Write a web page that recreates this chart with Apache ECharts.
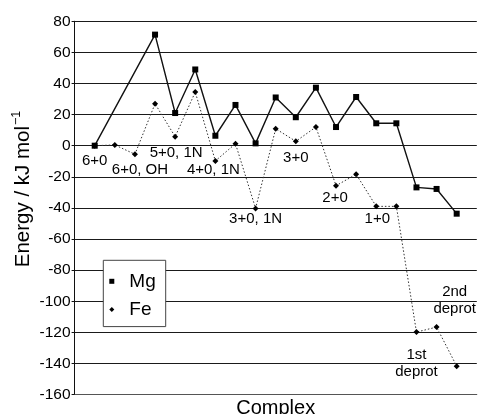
<!DOCTYPE html>
<html>
<head>
<meta charset="utf-8">
<script src="https://cdn.jsdelivr.net/npm/echarts@6/dist/echarts.min.js"></script>
<style>
  html, body { margin: 0; padding: 0; background: #fff; }
  #chart { width: 478px; height: 414px; }
</style>
</head>
<body>
<div id="chart"></div>
<script>
// Complex positions (index along the x axis)
const mgX = [0, 3, 4, 5, 6, 7, 8, 9, 10, 11, 12, 13, 14, 15, 16, 17, 18];
const mgEnergy = [0, 71.4, 21, 49, 6.4, 26.2, 1.5, 31, 18.3, 37.3, 12, 31.3, 14.4, 14.4, -26.8, -27.8, -43.7];
const feX = [0, 1, 2, 3, 4, 5, 6, 7, 8, 9, 10, 11, 12, 13, 14, 15, 16, 17, 18];
const feEnergy = [0, 0.5, -5.5, 27, 5.8, 34.5, -9.8, 1.3, -40.3, 10.9, 2.8, 12, -25.7, -18.4, -39, -39, -119.8, -116.6, -141.7];
const yTickMin = -160, yTickMax = 80, yTickStep = 20;

// Annotation labels, anchored in data space (complex index, energy)
const noteText = ['6+0', '6+0, OH', '5+0, 1N', '4+0, 1N', '3+0, 1N', '3+0', '2+0', '1+0', '2nd\ndeprot', '1st\ndeprot'];
const noteX = [0.0, 2.25, 4.05, 5.9, 8.0, 10.0, 11.95, 14.05, 17.9, 16.0];
const noteY = [-10, -15.6, -4.7, -15.6, -47, -7.6, -33.6, -47, -99.5, -139.7];

const chart = echarts.init(document.getElementById('chart'), null, { renderer: 'canvas' });

const pair = (xs, ys) => xs.map((x, i) => [x, ys[i]]);
const FONT = 'Liberation Sans, Arial, sans-serif';

chart.setOption({
  animation: false,
  backgroundColor: '#fff',
  textStyle: { fontFamily: FONT },
  grid: { left: 74.6, right: 1.2, top: 21.25, bottom: 19.4, containLabel: false, outerBoundsMode: 'none' },
  xAxis: {
    type: 'value',
    min: -1, max: 19,
    name: 'Complex',
    nameLocation: 'middle',
    nameGap: 4,
    nameTextStyle: { fontSize: 20, color: '#000', fontFamily: FONT },
    axisLine: { show: true, onZero: false, lineStyle: { color: '#555', width: 1 } },
    axisTick: { show: false },
    axisLabel: { show: false },
    splitLine: { show: false }
  },
  yAxis: {
    type: 'value',
    min: yTickMin, max: yTickMax, interval: yTickStep,
    axisLine: { show: true, onZero: false, lineStyle: { color: '#111', width: 1 } },
    axisTick: { show: true, inside: false, length: 3, lineStyle: { color: '#111' } },
    axisLabel: { fontSize: 15.5, color: '#000', margin: 4, fontFamily: FONT },
    splitLine: { show: true, lineStyle: { color: '#1a1a1a', width: 1 } }
  },
  legend: {
    orient: 'vertical',
    left: 103.3, top: 260.3,
    padding: [11, 10, 7, 6],
    itemGap: 8.3,
    itemWidth: 5, itemHeight: 5,
    backgroundColor: '#fff',
    borderColor: '#444', borderWidth: 1,
    textStyle: { fontSize: 19, color: '#000', lineHeight: 20, padding: [0, 0, 0, 10], fontFamily: FONT },
    data: [
      { name: 'Mg', icon: 'rect' },
      { name: 'Fe', icon: 'diamond' }
    ],
    z: 10
  },
  graphic: [{
    type: 'text',
    x: 22, y: 189,
    rotation: Math.PI / 2,
    style: {
      text: '{a|Energy / kJ mol}{s|−1}',
      align: 'center', verticalAlign: 'middle',
      fill: '#000',
      rich: {
        a: { fontSize: 20.5, lineHeight: 24, fill: '#000', fontFamily: FONT, verticalAlign: 'bottom' },
        s: { fontSize: 12.5, lineHeight: 24, fill: '#000', fontFamily: FONT, verticalAlign: 'top', padding: [0, 0, 0, 1] }
      }
    }
  }],
  series: [
    {
      name: 'Mg', type: 'line',
      data: pair(mgX, mgEnergy),
      symbol: 'rect', symbolSize: 6,
      itemStyle: { color: '#000' },
      lineStyle: { color: '#111', width: 1.4, type: 'solid' },
      z: 3
    },
    {
      name: 'Fe', type: 'line',
      data: pair(feX, feEnergy),
      symbol: 'diamond', symbolSize: 6,
      itemStyle: { color: '#000' },
      lineStyle: { color: '#333', width: 1, type: [1.5, 2] },
      z: 3
    },
    {
      name: 'notes', type: 'scatter',
      silent: true,
      symbolSize: 0,
      itemStyle: { opacity: 1, color: '#000' },
      data: noteText.map((t, i) => ({ name: t, value: [noteX[i], noteY[i]] })),
      label: {
        show: true, position: 'inside',
        formatter: p => p.name,
        fontSize: 15, lineHeight: 17, color: '#000', opacity: 1,
        fontFamily: FONT
      },
      z: 5
    }
  ]
});
</script>
</body>
</html>
